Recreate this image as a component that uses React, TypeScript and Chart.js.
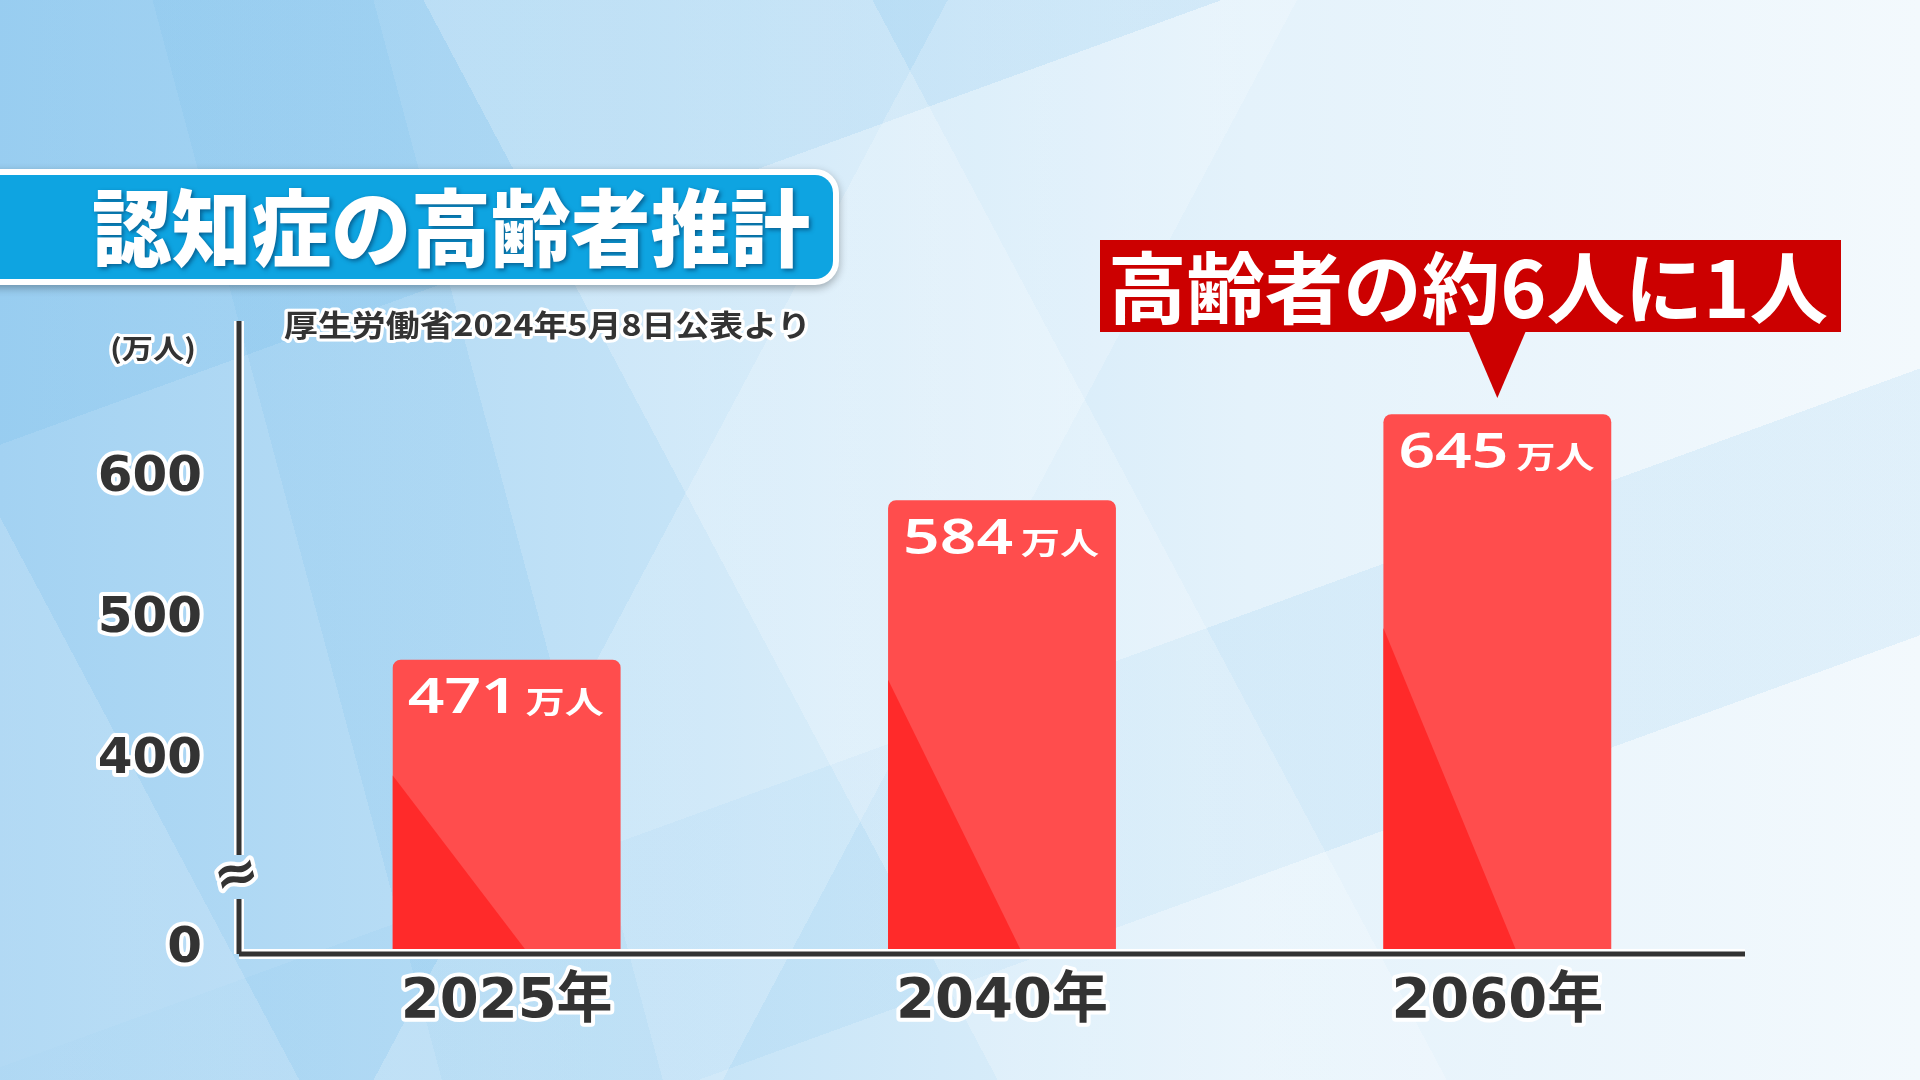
import { useEffect, useRef } from "react"
import { Chart, registerables } from "chart.js"

Chart.register(...registerables)

// data
const years = ["2025年", "2040年", "2060年"]
const patients = [471, 584, 645]
const yTicks = [400, 500, 600]
const yFloor = 266 // value shown as "0" below the axis break
const yTop = 711
const breakValue = 317
const unit = "万人"
const title = "認知症の高齢者推計"
const source = "厚生労働省2024年5月8日公表より"
const axisUnit = "(万人)"
const callout = "高齢者の約6人に1人"

const JP = "'Noto Sans CJK JP', 'Noto Sans', sans-serif"
const NUM = "'DejaVu Sans', 'Noto Sans CJK JP', sans-serif"

function fitText(
	ctx: CanvasRenderingContext2D,
	text: string,
	x: number,
	y: number,
	w: number,
	font: string,
	fill: string,
	stroke?: string,
	sw = 0,
) {
	ctx.save()
	ctx.font = font
	ctx.textBaseline = "middle"
	ctx.textAlign = "left"
	const sx = w / ctx.measureText(text).width
	ctx.translate(x, y)
	ctx.scale(sx, 1)
	if (stroke) {
		ctx.lineJoin = "round"
		ctx.lineWidth = sw
		ctx.strokeStyle = stroke
		ctx.strokeText(text, 0, 0)
	}
	ctx.fillStyle = fill
	ctx.fillText(text, 0, 0)
	ctx.restore()
}

const decor = {
	id: "decor",
	beforeDraw(chart: any) {
		chart.ctx.lineJoin = "round"
	},
	afterDatasetsDraw(chart: any) {
		const ctx: CanvasRenderingContext2D = chart.ctx
		const area = chart.chartArea
		const meta = chart.getDatasetMeta(0)
		meta.data.forEach((bar: any, i: number) => {
			const { x, y, width } = bar.getProps(["x", "y", "width"], true)
			const base = area.bottom
			const left = x - width / 2
			const h = base - y
			ctx.save()
			ctx.fillStyle = "#ff2a2a"
			ctx.beginPath()
			ctx.moveTo(left, base - h * 0.6)
			ctx.lineTo(left + width * 0.58, base)
			ctx.lineTo(left, base)
			ctx.closePath()
			ctx.fill()
			ctx.restore()
			fitText(ctx, String(patients[i]), left + 15, y + 40, 110, `600 48px 'Noto Sans', sans-serif`, "#ffffff")
			fitText(ctx, unit, left + 133, y + 42, 78, `bold 31px ${JP}`, "#ffffff")
		})
	},
	afterDraw(chart: any) {
		const ctx: CanvasRenderingContext2D = chart.ctx
		const area = chart.chartArea
		const yScale = chart.scales.y
		const lineX = area.left - 20
		const lineY = area.bottom + 5
		const by = yScale.getPixelForValue(breakValue)

		// axes
		ctx.save()
		ctx.lineCap = "butt"
		const segs = [
			[lineX, 321, lineX, by - 22],
			[lineX, by + 22, lineX, lineY],
			[lineX, lineY, area.right, lineY],
		]
		for (const [w, c] of [
			[10, "#ffffff"],
			[5, "#333333"],
		] as const) {
			ctx.lineWidth = w
			ctx.strokeStyle = c
			for (const s of segs) {
				ctx.beginPath()
				ctx.moveTo(s[0], s[1])
				ctx.lineTo(s[2], s[3])
				ctx.stroke()
			}
		}
		ctx.restore()

		// break mark
		ctx.save()
		ctx.translate(lineX - 2, by)
		ctx.rotate(-0.25)
		ctx.font = `bold 54px ${NUM}`
		ctx.textAlign = "center"
		ctx.textBaseline = "middle"
		ctx.lineJoin = "round"
		ctx.lineWidth = 8
		ctx.strokeStyle = "#ffffff"
		ctx.strokeText("≈", 0, 0)
		ctx.fillStyle = "#333333"
		ctx.fillText("≈", 0, 0)
		ctx.restore()

		// title banner
		ctx.save()
		const bx = 839
		const r = 24
		ctx.shadowColor = "rgba(0,0,0,0.3)"
		ctx.shadowBlur = 8
		ctx.shadowOffsetY = 3
		ctx.fillStyle = "#ffffff"
		ctx.beginPath()
		ctx.moveTo(-20, 169)
		ctx.arcTo(bx, 169, bx, 285, r)
		ctx.arcTo(bx, 285, -20, 285, r)
		ctx.lineTo(-20, 285)
		ctx.closePath()
		ctx.fill()
		ctx.shadowColor = "transparent"
		ctx.fillStyle = "#0ea4e1"
		ctx.beginPath()
		ctx.moveTo(-20, 175)
		ctx.arcTo(bx - 6, 175, bx - 6, 279, r - 6)
		ctx.arcTo(bx - 6, 279, -20, 279, r - 6)
		ctx.lineTo(-20, 279)
		ctx.closePath()
		ctx.fill()
		ctx.restore()
		ctx.save()
		ctx.shadowColor = "rgba(0,40,80,0.55)"
		ctx.shadowBlur = 4
		ctx.shadowOffsetX = 2
		ctx.shadowOffsetY = 2
		fitText(ctx, title, 92, 228, 718, `900 84px ${JP}`, "#ffffff")
		ctx.restore()

		// source + unit
		fitText(ctx, source, 284, 325, 527, `bold 30px ${JP}`, "#333333", "#ffffff", 6)
		fitText(ctx, axisUnit, 110, 349, 86, `bold 27px ${JP}`, "#333333", "#ffffff", 6)

		// callout over the last bar
		const last = chart.getDatasetMeta(0).data[patients.length - 1]
		const px = last.x
		ctx.save()
		ctx.fillStyle = "#cc0000"
		ctx.fillRect(1100, 240, 741, 92)
		ctx.beginPath()
		ctx.moveTo(px - 29, 330)
		ctx.lineTo(px + 29, 330)
		ctx.lineTo(px, 398)
		ctx.closePath()
		ctx.fill()
		ctx.restore()
		fitText(ctx, callout, 1108, 288, 720, `bold 78px ${JP}`, "#ffffff")
	},
}

function BarChart() {
	const canvasRef = useRef<HTMLCanvasElement>(null)

	useEffect(() => {
		if (!canvasRef.current) return
		const ctx = canvasRef.current.getContext("2d")
		if (!ctx) return

		const chart = new Chart(ctx, {
			type: "bar",
			data: {
				labels: years,
				datasets: [
					{
						data: patients,
						backgroundColor: "#ff4d4d",
						borderRadius: 8,
						borderSkipped: "start",
						barPercentage: 0.46,
						categoryPercentage: 1,
					},
				],
			},
			options: {
				animation: false,
				responsive: true,
				maintainAspectRatio: false,
				layout: { padding: { top: 321, right: 175, left: 0, bottom: 0 } },
				plugins: { legend: { display: false }, tooltip: { enabled: false } },
				scales: {
					x: {
						grid: { display: false, drawTicks: false },
						border: { display: false },
						ticks: {
							color: "#333333",
							font: { family: NUM, size: 56, weight: "bold" },
							padding: 20,
							maxRotation: 0,
							textStrokeColor: "#ffffff",
							textStrokeWidth: 8,
						},
						afterFit(s: any) {
							s.height = 131
						},
					},
					y: {
						min: yFloor,
						max: yTop,
						grid: { display: false, drawTicks: false },
						border: { display: false },
						afterBuildTicks(s: any) {
							s.ticks = [yFloor, ...yTicks].map((v) => ({ value: v }))
						},
						ticks: {
							color: "#333333",
							font: { family: NUM, size: 50, weight: "bold" },
							padding: 57,
							autoSkip: false,
							textStrokeColor: "#ffffff",
							textStrokeWidth: 8,
							callback: (v: any) => (v === yFloor ? "0" : String(v)),
						},
						afterFit(s: any) {
							s.width = 259
						},
					},
				},
			},
			plugins: [decor],
		})

		return () => {
			chart.destroy()
		}
	}, [])

	return <canvas ref={canvasRef} />
}

export default function App() {
	return (
		<div
			style={{
				position: "fixed",
				left: 0,
				top: 0,
				width: 1920,
				height: 1080,
				background: [
					"linear-gradient(118deg, rgba(255,255,255,0) 0 38%, rgba(255,255,255,.2) 38% 52%, rgba(255,255,255,0) 52%)",
					"linear-gradient(62deg, rgba(255,255,255,.16) 0 12%, rgba(255,255,255,0) 12% 40%, rgba(255,255,255,.22) 40% 58%, rgba(255,255,255,0) 58%)",
					"linear-gradient(160deg, rgba(120,190,235,.25) 0 25%, rgba(255,255,255,0) 25% 60%, rgba(150,205,240,.2) 60% 75%, rgba(255,255,255,0) 75%)",
					"linear-gradient(75deg, rgba(255,255,255,0) 0 20%, rgba(120,190,235,.18) 20% 30%, rgba(255,255,255,0) 30%)",
					"linear-gradient(90deg, #a3d2f2 0%, #c4e3f7 35%, #e4f2fb 65%, #f3f9fd 100%)",
				].join(","),
			}}
		>
			<BarChart />
		</div>
	)
}
